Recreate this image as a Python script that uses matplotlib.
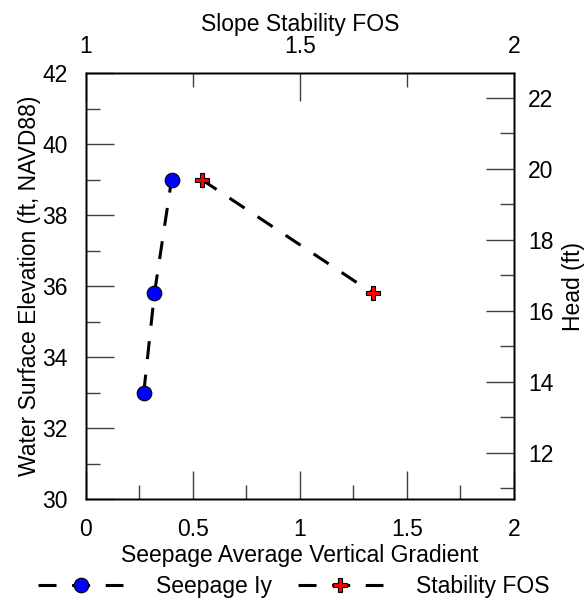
import numpy as np
import matplotlib.pyplot as plt
from matplotlib.ticker import MultipleLocator

plt.rcParams['font.family'] = ['Liberation Sans', 'DejaVu Sans']

# seepage gradient (bottom axis) vs water surface elevation (left axis)
seep_grad = [0.27, 0.32, 0.40]
seep_wse = [33.0, 35.8, 39.0]

# slope stability FOS (top axis) vs water surface elevation
fos = [1.27, 1.67]
fos_wse = [39.0, 35.8]

wse_lim = (30, 42)
head_offset = 19.3  # head = WSE - offset

fsize = 16.5
tick_col = '#404040'
dash = (5.9, 5.1)

fig = plt.figure(figsize=(5.87, 5.99), dpi=100)
ax = fig.add_axes([0.1465, 0.1669, 0.7291, 0.7112])

def style_ticks(a, axis):
    a.tick_params(axis=axis, which='major', direction='in', length=20, width=1,
                  color=tick_col, labelsize=fsize)
    a.tick_params(axis=axis, which='minor', direction='in', length=10, width=1,
                  color=tick_col)

l1, = ax.plot(seep_grad, seep_wse, color='black', lw=2.2, dashes=dash,
              marker='o', markersize=10.5, markerfacecolor='#0000ff',
              markeredgecolor='black', markeredgewidth=0.8, label='Seepage Iy')
ax.set_xlim(0, 2)
ax.set_ylim(*wse_lim)
ax.xaxis.set_minor_locator(MultipleLocator(0.25))
ax.yaxis.set_major_locator(MultipleLocator(2))
ax.yaxis.set_minor_locator(MultipleLocator(1))
ax.set_xticks([0, 0.5, 1, 1.5, 2], ['0', '0.5', '1', '1.5', '2'])
style_ticks(ax, 'both')
ax.tick_params(axis='x', which='major', pad=14)
ax.tick_params(axis='y', which='major', pad=13)
ax.set_xlabel('Seepage Average Vertical Gradient', fontsize=fsize, labelpad=2)
ax.set_ylabel('Water Surface Elevation (ft, NAVD88)', fontsize=fsize, labelpad=1)

ax_top = ax.twiny()
l2, = ax_top.plot(fos, fos_wse, color='black', lw=2.2, dashes=dash,
                  marker='P', markersize=10.5, markerfacecolor='#ff0000',
                  markeredgecolor='black', markeredgewidth=0.8, label='Stability FOS')
ax_top.set_xlim(1, 2)
ax_top.xaxis.set_minor_locator(MultipleLocator(0.25))
ax_top.set_xticks([1, 1.5, 2], ['1', '1.5', '2'])
style_ticks(ax_top, 'x')
ax_top.tick_params(axis='x', which='major', pad=11)
ax_top.set_xlabel('Slope Stability FOS', fontsize=fsize, labelpad=3)

ax_r = ax.twinx()
ax_r.set_ylim(wse_lim[0] - head_offset, wse_lim[1] - head_offset)
ax_r.yaxis.set_major_locator(MultipleLocator(2))
ax_r.yaxis.set_minor_locator(MultipleLocator(1))
style_ticks(ax_r, 'y')
ax_r.tick_params(axis='y', which='major', pad=10)
ax_r.set_ylabel('Head (ft)', fontsize=fsize, labelpad=6)

for a in (ax, ax_top, ax_r):
    for s in a.spines.values():
        s.set_linewidth(1)
        s.set_color('black')

fig.legend(handles=[l1, l2], loc='center left', bbox_to_anchor=(38 / 587, 0.021),
           ncol=2, frameon=False, fontsize=fsize, handlelength=3.72,
           handletextpad=1.45, columnspacing=1.1, borderpad=0, borderaxespad=0)

fig.savefig('out.png', dpi=100)
